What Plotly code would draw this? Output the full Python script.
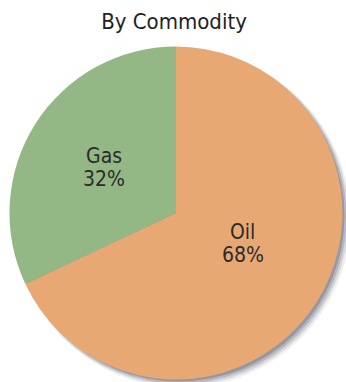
import math
import plotly.graph_objects as go

# Share of reserves by commodity
commodities = ["Oil", "Gas"]
shares = [68, 32]
slice_colors = ["#E8A874", "#93B785"]
# label placement per slice: fraction of radius, angular nudge (deg)
label_radius = [0.44, 0.51]
label_nudge = [-8, 0]

W, H = 346, 382
cx, cy, r = 176, 213, 166.5
FONT = "DejaVu Sans Condensed, Liberation Sans Narrow, Roboto, sans-serif"

fig = go.Figure()

fig.add_trace(go.Pie(
    labels=commodities,
    values=shares,
    marker=dict(colors=slice_colors, line=dict(width=0)),
    sort=False,
    direction="clockwise",
    rotation=0,
    domain=dict(x=[(cx - r) / W, (cx + r) / W], y=[(H - cy - r) / H, (H - cy + r) / H]),
    textinfo="none",
    showlegend=False,
))

# slice labels: name on one line, share on the next, placed along the slice bisector
annotations = []
total = sum(shares)
start = 0.0
for name, v, frac, nudge in zip(commodities, shares, label_radius, label_nudge):
    sweep = 360.0 * v / total
    mid = math.radians(start + sweep / 2 + nudge)   # clockwise from 12 o'clock
    start += sweep
    px = cx + frac * r * math.sin(mid)
    py = cy - frac * r * math.cos(mid)
    for txt, dy in [(name, -11.5), (f"{v}%", 11.5)]:
        annotations.append(dict(
            text=txt, x=px / W, y=(H - (py + dy)) / H, xref="paper", yref="paper",
            xanchor="center", yanchor="middle", showarrow=False,
            font=dict(family=FONT, size=21, color="#2b2b2b"),
        ))

# soft drop shadow behind the pie (lower right), drawn as layered circles
shadow_layers = []
for off, grow, alpha in [(6, 2.0, 0.08), (5, 1.0, 0.14), (4, 0.0, 0.2), (3, -1.0, 0.26)]:
    shadow_layers.append(dict(
        type="circle", xref="paper", yref="paper", layer="below",
        x0=(cx - r - grow + off) / W, x1=(cx + r + grow + off) / W,
        y0=(H - (cy + r + grow + off)) / H, y1=(H - (cy - r - grow + off)) / H,
        fillcolor=f"rgba(60,60,75,{alpha})", line=dict(width=0),
    ))

fig.update_layout(
    width=W, height=H,
    margin=dict(l=0, r=0, t=0, b=0),
    paper_bgcolor="white",
    plot_bgcolor="rgba(0,0,0,0)",
    shapes=shadow_layers,
    annotations=annotations,
    title=dict(
        text="By Commodity",
        x=174 / W, xanchor="center",
        y=1 - 21 / H, yanchor="middle",
        font=dict(family=FONT, size=22, color="#222"),
    ),
)

fig.write_html("out.html")
